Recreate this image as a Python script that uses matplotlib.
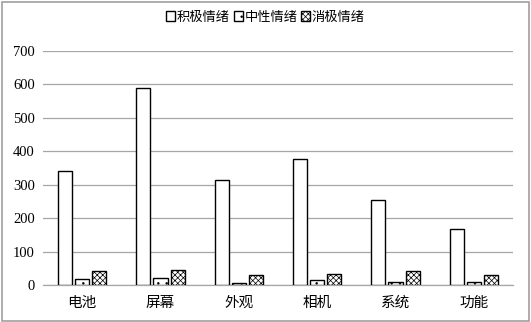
import matplotlib
matplotlib.use("Agg")
import matplotlib.pyplot as plt
import numpy as np
from matplotlib.patches import Rectangle

categories = ["电池", "屏幕", "外观", "相机", "系统", "功能"]
series_names = ["积极情绪", "中性情绪", "消极情绪"]
positive = [342, 588, 313, 378, 253, 168]
neutral = [18, 22, 5, 15, 8, 8]
negative = [41, 45, 30, 33, 43, 30]
yticks = [0, 100, 200, 300, 400, 500, 600, 700]

plt.rcParams['font.family'] = ['Noto Sans CJK SC', 'DejaVu Sans']
plt.rcParams['hatch.linewidth'] = 0.5

fig = plt.figure(figsize=(5.31, 3.22), dpi=100)
fig.patches.append(Rectangle((0.003, 0.004), 0.994, 0.99, transform=fig.transFigure,
                             fill=False, edgecolor='#a0a0a0', linewidth=1.2))
ax = fig.add_axes([43/531, 37/322, 470/531, 234/322])

x = np.arange(len(categories))
w = 0.18
off = 0.22
b1 = ax.bar(x - off, positive, w, facecolor='white', edgecolor='black', linewidth=1.0, label=series_names[0], zorder=3)
b2 = ax.bar(x, neutral, w, facecolor='white', edgecolor='black', linewidth=1.0, hatch='..', label=series_names[1], zorder=3)
b3 = ax.bar(x + off, negative, w, facecolor='white', edgecolor='black', linewidth=1.0, hatch='xxxxxx', label=series_names[2], zorder=3)

ax.set_xlim(-0.5, len(categories) - 0.5)
ax.set_ylim(0, 700)
ax.set_yticks(yticks)
ax.set_yticklabels([str(v) for v in yticks], family='Liberation Serif', fontsize=10.5)
ax.set_xticks(x)
ax.set_xticklabels(categories, fontsize=10.5)
ax.tick_params(axis='x', length=0, pad=8)
ax.tick_params(axis='y', length=0, pad=6)
ax.grid(axis='y', color='#a6a6a6', linewidth=0.9, zorder=0)
for s in ['top', 'right', 'left']:
    ax.spines[s].set_visible(False)
ax.spines['bottom'].set_color('#a6a6a6')
ax.spines['bottom'].set_linewidth(0.9)

fig.legend(handles=[b1, b2, b3], loc='center', bbox_to_anchor=(0.5, 1 - 17/322), ncol=3,
           frameon=False, fontsize=9.5, handlelength=0.7, handleheight=0.7,
           handletextpad=0.1, columnspacing=0.3)

fig.savefig("out.png", dpi=100)
